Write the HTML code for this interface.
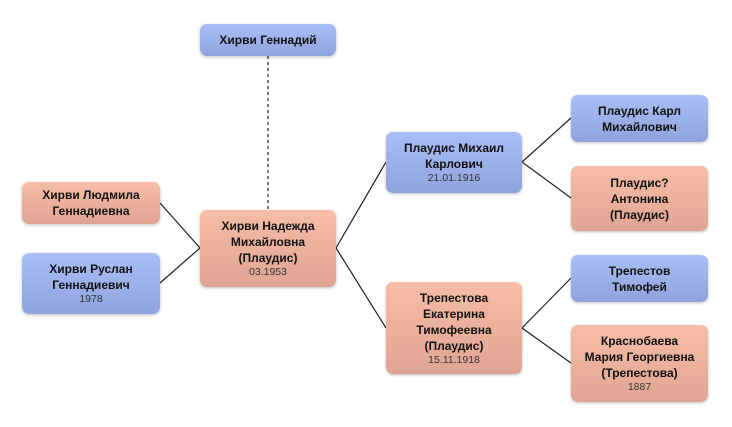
<!DOCTYPE html>
<html><head><meta charset="utf-8"><style>
body{margin:0;width:732px;height:427px;background:#fff;position:relative;overflow:hidden;font-family:"Liberation Sans","DejaVu Sans",sans-serif;}
.b{position:absolute;box-sizing:border-box;border-radius:7px;display:flex;flex-direction:column;justify-content:center;align-items:center;text-align:center;font-weight:bold;font-size:12px;line-height:16px;color:#111;box-shadow:0 1px 3px rgba(0,0,0,0.25);}
.m{background:linear-gradient(#a9bff8,#8fa3dc);}
.f{background:linear-gradient(#f7bda6,#dfa593);}
.d{font-weight:normal;font-size:10.5px;line-height:13px;color:#333;}
svg{position:absolute;left:0;top:0;}
</style></head><body>
<svg width="732" height="427">
<g stroke="#222" stroke-width="1.2" fill="none">
<line x1="268" y1="56" x2="268" y2="210" stroke="#777" stroke-width="2" stroke-dasharray="3,3"/>
<polyline points="160,203 200,248 160,283"/>
<polyline points="386,162 336,248 386,328"/>
<polyline points="571,118 522,162 571,198"/>
<polyline points="571,278 522,328 571,363"/>
</g></svg>
<div class="b m" style="left:200px;top:24px;width:136px;height:32px">Хирви Геннадий</div>
<div class="b f" style="left:200px;top:210px;width:136px;height:77px">Хирви Надежда<br>Михайловна<br>(Плаудис)<span class="d">03.1953</span></div>
<div class="b f" style="left:22px;top:182px;width:138px;height:42px">Хирви Людмила<br>Геннадиевна</div>
<div class="b m" style="left:22px;top:253px;width:138px;height:61px">Хирви Руслан<br>Геннадиевич<span class="d">1978</span></div>
<div class="b m" style="left:386px;top:132px;width:136px;height:61px">Плаудис Михаил<br>Карлович<span class="d">21.01.1916</span></div>
<div class="b f" style="left:386px;top:282px;width:136px;height:92px">Трепестова<br>Екатерина<br>Тимофеевна<br>(Плаудис)<span class="d">15.11.1918</span></div>
<div class="b m" style="left:571px;top:95px;width:137px;height:47px">Плаудис Карл<br>Михайлович</div>
<div class="b f" style="left:571px;top:166px;width:137px;height:65px">Плаудис?<br>Антонина<br>(Плаудис)</div>
<div class="b m" style="left:571px;top:255px;width:137px;height:47px">Трепестов<br>Тимофей</div>
<div class="b f" style="left:571px;top:325px;width:137px;height:77px">Краснобаева<br>Мария Георгиевна<br>(Трепестова)<span class="d">1887</span></div>
</body></html>
